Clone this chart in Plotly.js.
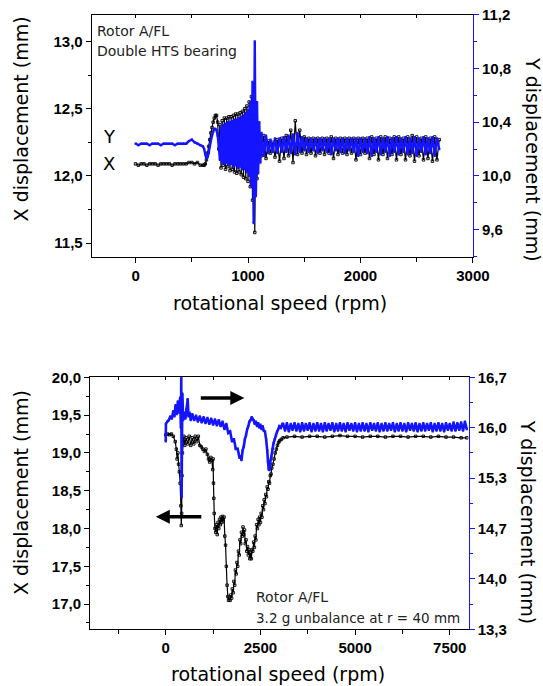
<!DOCTYPE html>
<html>
<head>
<meta charset="utf-8">
<script src="https://cdn.plot.ly/plotly-3.0.1.min.js"></script>
<style>
html,body{margin:0;padding:0;background:#fff;}
#chart{width:543px;height:686px;}
</style>
</head>
<body>
<div id="chart"></div>
<script>
// ---------------- DATA: top panel (Rotor A/FL, double HTS bearing) ----------------
var rpmTop = [
  0,25,50,75,100,125,150,175,200,225,250,275,300,325,350,375,400,425,450,475,500,525,550,575,600,
  610,620,630,640,650,660,670,680,690,700,710,720,730,740,
  750,760,770,780,790,800,810,820,830,840,
  850,860,870,880,890,900,910,920,930,940,
  950,960,970,980,990,1000,1010,1020,1030,1040,
  1050,1060,1070,1080,1090,1100,1110,1120,
  1140,1160,1180,1200,1220,1240,1260,1280,1300,1320,
  1340,1360,1380,1400,1420,1440,1460,1480,1500,1520,
  1540,1560,1580,1600,1620,1640,1660,1680,1700,1720,
  1740,1760,1780,1800,1820,1840,1860,1880,1900,1920,
  1940,1960,1980,2000,2020,2040,2060,2080,2100,2120,
  2140,2160,2180,2200,2220,2240,2260,2280,2300,2320,
  2340,2360,2380,2400,2420,2440,2460,2480,2500,2520,
  2540,2560,2580,2600,2620,2640,2660,2680,2700
];
var xDispTop = [
  12.09,12.08,12.09,12.09,12.08,12.09,12.09,12.09,12.08,12.09,12.09,12.09,12.09,12.08,12.09,12.09,12.09,12.09,12.09,12.10,12.10,12.09,12.10,12.08,12.08,
  12.08,12.09,12.12,12.17,12.22,12.27,12.32,12.36,12.40,12.43,12.45,12.45,12.40,12.20,
  12.38,12.06,12.41,12.08,12.43,12.05,12.43,12.07,12.44,12.04,
  12.44,12.05,12.45,12.03,12.46,12.02,12.46,12.03,12.47,12.01,
  12.48,11.99,12.50,11.98,12.52,11.96,12.55,11.92,12.59,11.82,
  12.50,11.58,12.35,11.98,12.30,12.12,12.28,12.15,
  12.30,12.13,12.26,12.17,12.25,12.14,12.27,12.11,12.28,12.13,
  12.30,12.15,12.34,12.10,12.41,12.16,12.34,12.17,12.29,12.16,
  12.28,12.17,12.28,12.15,12.28,12.17,12.28,12.16,12.28,12.17,
  12.29,12.13,12.28,12.16,12.28,12.17,12.28,12.16,12.28,12.17,
  12.28,12.12,12.28,12.16,12.28,12.17,12.28,12.13,12.29,12.16,
  12.28,12.12,12.29,12.16,12.29,12.13,12.28,12.16,12.29,12.12,
  12.29,12.16,12.28,12.12,12.29,12.15,12.30,12.11,12.29,12.15,
  12.28,12.12,12.29,12.13,12.28,12.11,12.29,12.12,12.27
];
var yDispTop = [
  10.24,10.23,10.24,10.24,10.24,10.23,10.24,10.24,10.24,10.23,10.24,10.24,10.24,10.24,10.23,10.24,10.24,10.24,10.24,10.26,10.27,10.25,10.24,10.23,10.22,
  10.20,10.16,10.13,10.14,10.17,10.22,10.26,10.30,10.33,10.35,10.35,10.34,10.30,10.22,
  10.12,10.36,10.10,10.38,10.09,10.39,10.10,10.40,10.08,10.40,
  10.09,10.41,10.07,10.42,10.08,10.42,10.06,10.43,10.07,10.44,
  10.05,10.45,10.05,10.47,10.03,10.49,10.00,10.55,9.92,10.70,
  9.65,11.00,9.85,10.55,10.02,10.40,10.10,10.32,
  10.15,10.30,10.17,10.27,10.18,10.28,10.17,10.28,10.18,10.29,
  10.18,10.30,10.17,10.31,10.16,10.32,10.18,10.29,10.19,10.28,
  10.18,10.28,10.19,10.28,10.17,10.28,10.19,10.28,10.18,10.28,
  10.16,10.28,10.19,10.28,10.18,10.28,10.17,10.28,10.19,10.28,
  10.18,10.28,10.15,10.28,10.18,10.28,10.17,10.29,10.15,10.28,
  10.18,10.29,10.16,10.28,10.18,10.29,10.15,10.28,10.18,10.29,
  10.16,10.28,10.18,10.29,10.16,10.28,10.17,10.29,10.15,10.28,
  10.18,10.29,10.16,10.28,10.17,10.29,10.15,10.28,10.20
];

// ---------------- DATA: bottom panel (3.2 g unbalance) ----------------
var rpmBotX = [
  0,50,100,150,200,250,280,300,320,340,
  360,380,400,410,420,430,440,460,480,500,
  540,580,620,660,700,740,780,820,860,900,
  940,980,1020,1060,1100,1130,1160,1190,1220,1240,
  1250,1260,1270,1280,1300,1320,1340,1360,1380,1400,
  1420,1440,1460,1480,1500,1520,1540,1560,1580,1600,
  1620,1640,1660,1680,1700,1720,1740,1760,1780,1800,
  1820,1840,1860,1880,1900,1920,1940,1960,1980,2000,
  2020,2040,2060,2080,2100,2120,2140,2160,2180,2200,
  2220,2240,2260,2280,2300,2320,2340,2360,2380,2400,
  2420,2440,2460,2480,2500,2520,2540,2560,2580,2600,
  2620,2640,2660,2680,2700,2720,2740,2760,2780,2800,
  2830,2860,2890,2920,2950,2980,3010,3050,3100,3200,
  3400,3600,3800,4000,4200,4400,4600,4800,5000,5200,
  5400,5600,5800,6000,6200,6400,6600,6800,7000,7200,
  7400,7600,7800,7950
];
var xDispBot = [
  19.24,19.25,19.24,19.25,19.22,19.15,19.05,18.92,19.00,18.85,
  18.75,18.60,18.30,18.04,18.20,18.70,19.00,19.15,19.22,19.10,
  19.20,19.12,19.22,19.10,19.20,19.12,19.22,19.15,19.22,19.10,
  19.08,19.05,19.02,19.05,18.98,18.92,18.88,18.94,18.90,18.78,
  18.92,18.60,18.40,18.20,18.00,17.95,18.05,17.92,18.08,18.00,
  18.12,18.05,18.15,18.08,18.16,18.10,18.15,17.90,17.78,17.50,
  17.25,17.10,17.05,17.08,17.05,17.12,17.08,17.20,17.15,17.30,
  17.25,17.45,17.40,17.55,17.50,17.70,17.65,17.85,17.80,17.95,
  17.90,18.02,17.92,17.98,17.80,17.85,17.70,17.76,17.65,17.72,
  17.60,17.68,17.60,17.72,17.70,17.82,17.75,17.90,17.85,18.05,
  18.00,18.12,18.05,18.15,18.08,18.20,18.15,18.30,18.25,18.38,
  18.33,18.45,18.42,18.55,18.52,18.62,18.60,18.70,18.72,18.80,
  18.85,18.92,19.00,19.05,19.10,19.14,19.16,19.18,19.20,19.21,
  19.22,19.21,19.22,19.22,19.21,19.22,19.23,19.22,19.22,19.21,
  19.22,19.22,19.21,19.22,19.22,19.21,19.22,19.22,19.21,19.22,
  19.21,19.21,19.20,19.20
];
var rpmBotY = [
  0,5,40,80,120,160,200,230,260,290,
  320,350,380,400,410,420,430,440,460,490,
  520,550,580,600,630,660,700,750,800,850,
  900,950,1000,1050,1100,1150,1200,1250,1300,1350,
  1400,1450,1500,1550,1600,1650,1700,1750,1800,1850,
  1900,1950,1980,2000,2030,2060,2090,2120,2150,2180,
  2210,2240,2270,2290,2320,2350,2380,2410,2440,2470,
  2500,2530,2560,2590,2620,2650,2680,2700,2720,2740,
  2760,2790,2820,2850,2880,2910,2940,2970,3000,3040,
  3080,
  3100,3150,3200,3250,3300,3350,3400,3450,3500,3550,
  3600,3650,3700,3750,3800,3850,3900,3950,4000,4050,
  4100,4150,4200,4250,4300,4350,4400,4450,4500,4550,
  4600,4650,4700,4750,4800,4850,4900,4950,5000,5050,
  5100,5150,5200,5250,5300,5350,5400,5450,5500,5550,
  5600,5650,5700,5750,5800,5850,5900,5950,6000,6050,
  6100,6150,6200,6250,6300,6350,6400,6450,6500,6550,
  6600,6650,6700,6750,6800,6850,6900,6950,7000,7050,
  7100,7150,7200,7250,7300,7350,7400,7450,7500,7550,
  7600,7650,7700,7750,7800,7850,7900,7950
];
var yDispBot = [
  15.82,16.05,16.08,16.10,16.15,16.12,16.22,16.15,16.30,16.18,
  16.35,16.20,16.40,16.00,16.67,15.08,15.90,16.45,16.10,16.20,
  16.12,16.25,16.38,16.15,16.20,16.10,16.18,16.10,16.16,16.08,
  16.15,16.07,16.14,16.06,16.13,16.05,16.12,16.04,16.11,16.03,
  16.10,16.02,16.08,15.98,16.05,15.93,15.95,15.82,15.85,15.72,
  15.72,15.60,15.62,15.57,15.70,15.75,15.85,15.90,15.98,16.02,
  16.08,16.10,16.14,16.12,16.10,16.05,16.08,16.02,16.06,16.00,
  16.04,15.98,16.02,15.96,15.95,15.85,15.70,15.55,15.45,15.44,
  15.55,15.62,15.72,15.80,15.85,15.90,15.95,15.98,16.02,16.00,
  16.05,
  16.05,15.96,16.06,15.95,16.05,15.97,16.06,15.96,16.05,15.95,
  16.06,15.96,16.05,15.97,16.06,15.95,16.05,15.96,16.06,15.96,
  16.05,15.95,16.06,15.96,16.05,15.97,16.06,15.95,16.05,15.96,
  16.06,15.96,16.05,15.95,16.06,15.97,16.05,15.96,16.06,15.95,
  16.05,15.96,16.06,15.96,16.05,15.95,16.06,15.97,16.05,15.96,
  16.06,15.95,16.05,15.96,16.06,15.96,16.05,15.97,16.06,15.95,
  16.05,15.96,16.06,15.96,16.05,15.95,16.06,15.97,16.05,15.96,
  16.06,15.95,16.05,15.96,16.06,15.96,16.05,15.97,16.06,15.95,
  16.05,15.96,16.06,15.96,16.05,15.95,16.06,15.97,16.05,15.96,
  16.07,15.96,16.06,15.97,16.07,15.96,16.08,15.98
];

// tick labels of the bottom-right axis (thirds, shown with one decimal)
var yRightBotTickVals = [13.3333, 14.0, 14.6667, 15.3333, 16.0, 16.6667];
var yRightBotTickText = ['13,3', '14,0', '14,7', '15,3', '16,0', '16,7'];
var yRightBotMinorVals = [13.6667, 14.3333, 15.0, 15.6667, 16.3333];

// ---------------- LAYOUT helpers ----------------
var W = 543, H = 686;
function px(x) { return x / W; }
function py(y) { return 1 - y / H; }

var BLUE = '#1414ff';
var TICKFONT = {family: 'Liberation Sans, Arial, sans-serif', size: 15, color: '#000', weight: 'bold'};
var TITLEFONT = {family: 'DejaVu Sans, sans-serif', size: 19, color: '#000'};
var NOTEFONT = {family: 'DejaVu Sans, sans-serif', size: 14, color: '#222'};

function baseAxis(extra) {
  var a = {
    showgrid: false, zeroline: false, showline: true, linecolor: '#000', linewidth: 1,
    ticks: 'outside', ticklen: 5, tickwidth: 1, tickcolor: '#000',
    tickfont: TICKFONT, fixedrange: true
  };
  for (var k in extra) a[k] = extra[k];
  return a;
}

var traces = [
  {x: rpmTop, y: xDispTop, xaxis: 'x', yaxis: 'y', mode: 'lines+markers', hoverinfo: 'skip',
   line: {color: '#000', width: 1.2, simplify: false},
   marker: {symbol: 'square-open', size: 2.5, color: '#000', line: {width: 0.9, color: '#000'}}},
  {x: rpmTop, y: yDispTop, xaxis: 'x', yaxis: 'y2', mode: 'lines+markers', hoverinfo: 'skip',
   line: {color: BLUE, width: 2.4, simplify: false}, marker: {symbol: 'square', size: 2.2, color: BLUE}},
  {x: [0], y: [12], xaxis: 'x3', yaxis: 'y', mode: 'markers', hoverinfo: 'skip', marker: {opacity: 0}},
  {x: rpmBotX, y: xDispBot, xaxis: 'x2', yaxis: 'y3', mode: 'lines+markers', hoverinfo: 'skip',
   line: {color: '#000', width: 1.2, simplify: false},
   marker: {symbol: 'square-open', size: 2.5, color: '#000', line: {width: 0.9, color: '#000'}}},
  {x: rpmBotY, y: yDispBot, xaxis: 'x2', yaxis: 'y4', mode: 'lines+markers', hoverinfo: 'skip',
   line: {color: BLUE, width: 2.6, simplify: false}, marker: {symbol: 'square', size: 2.2, color: BLUE}},
  {x: [0], y: [19], xaxis: 'x4', yaxis: 'y3', mode: 'markers', hoverinfo: 'skip', marker: {opacity: 0}}
];

var topX = [px(91.7), px(473)], topY = [py(256.7), py(14.5)];
var botX = [px(90), px(468.7)], botY = [py(629.3), py(377.3)];

var layout = {
  width: W, height: H,
  margin: {l: 0, r: 0, t: 0, b: 0, pad: 0},
  paper_bgcolor: '#fff', plot_bgcolor: 'rgba(0,0,0,0)',
  showlegend: false,
  separators: ',.',
  xaxis: baseAxis({domain: topX, anchor: 'y', range: [-390, 3000.5], tick0: 0, dtick: 1000, mirror: true,
    minor: {tick0: 0, dtick: 500, ticks: 'outside', ticklen: 4, tickcolor: '#000', showgrid: false}}),
  xaxis3: {overlaying: 'x', anchor: 'y', side: 'top', range: [-390, 3000.5], tick0: 0, dtick: 500,
    ticks: 'inside', ticklen: 3, tickcolor: '#000', showticklabels: false, showline: false,
    showgrid: false, zeroline: false, fixedrange: true},
  yaxis: baseAxis({domain: topY, anchor: 'x', range: [11.4, 13.2], tick0: 11.5, dtick: 0.5, tickformat: '.1f',
    minor: {tick0: 11.5, dtick: 0.25, ticks: 'outside', ticklen: 3, tickcolor: '#000', showgrid: false}}),
  yaxis2: baseAxis({overlaying: 'y', side: 'right', anchor: 'x', range: [9.4, 11.2005], tick0: 9.6, dtick: 0.4,
    tickformat: '.1f', linecolor: BLUE, tickcolor: BLUE,
    minor: {tick0: 9.6, dtick: 0.2, ticks: 'outside', ticklen: 3, tickcolor: BLUE, showgrid: false}}),
  xaxis2: baseAxis({domain: botX, anchor: 'y3', range: [-2000, 8000], tick0: 0, dtick: 2500, mirror: true,
    minor: {tick0: 0, dtick: 1250, ticks: 'outside', ticklen: 4, tickcolor: '#000', showgrid: false}}),
  xaxis4: {overlaying: 'x2', anchor: 'y3', side: 'top', range: [-2000, 8000], tick0: 0, dtick: 1250,
    ticks: 'inside', ticklen: 3, tickcolor: '#000', showticklabels: false, showline: false,
    showgrid: false, zeroline: false, fixedrange: true},
  yaxis3: baseAxis({domain: botY, anchor: 'x2', range: [16.6665, 20.0005], tick0: 17, dtick: 0.5, tickformat: '.1f',
    minor: {tick0: 17, dtick: 0.25, ticks: 'outside', ticklen: 3, tickcolor: '#000', showgrid: false}}),
  yaxis4: baseAxis({overlaying: 'y3', side: 'right', anchor: 'x2', range: [13.333, 16.6672],
    tickmode: 'array', tickvals: yRightBotTickVals, ticktext: yRightBotTickText,
    linecolor: BLUE, tickcolor: BLUE,
    minor: {tickmode: 'array', tickvals: yRightBotMinorVals, ticks: 'outside', ticklen: 3, tickcolor: BLUE, showgrid: false}}),
  annotations: [
    // top panel
    {text: 'Rotor A/FL', x: px(95), y: py(30.7), xanchor: 'left', yanchor: 'middle', font: NOTEFONT},
    {text: 'Double HTS bearing', x: px(95), y: py(50.7), xanchor: 'left', yanchor: 'middle', font: NOTEFONT},
    {text: 'Y', x: px(109), y: py(136), xanchor: 'center', yanchor: 'middle', font: {family: 'DejaVu Sans, sans-serif', size: 18, color: '#000'}},
    {text: 'X', x: px(109), y: py(164), xanchor: 'center', yanchor: 'middle', font: {family: 'DejaVu Sans, sans-serif', size: 18, color: '#000'}},
    {text: 'rotational speed (rpm)', x: px(279.5), y: py(302.5), xanchor: 'center', yanchor: 'middle', font: TITLEFONT},
    {text: 'X displacement (mm)', x: px(20.7), y: py(118.7), xanchor: 'center', yanchor: 'middle', textangle: -90, font: TITLEFONT},
    {text: 'Y displacement (mm)', x: px(533), y: py(159), xanchor: 'center', yanchor: 'middle', textangle: 90, font: TITLEFONT},
    // bottom panel
    {text: 'rotational speed (rpm)', x: px(277.8), y: py(674), xanchor: 'center', yanchor: 'middle', font: TITLEFONT},
    {text: 'X displacement (mm)', x: px(20.6), y: py(492.5), xanchor: 'center', yanchor: 'middle', textangle: -90, font: TITLEFONT},
    {text: 'Y displacement (mm)', x: px(528), y: py(521.7), xanchor: 'center', yanchor: 'middle', textangle: 90, font: TITLEFONT},
    {text: 'Rotor A/FL', x: px(254), y: py(597.3), xanchor: 'left', yanchor: 'middle', font: NOTEFONT},
    {text: '3.2 g unbalance at r = 40 mm', x: px(254), y: py(618.3), xanchor: 'left', yanchor: 'middle', font: {family: 'DejaVu Sans, sans-serif', size: 13.5, color: '#222'}},
    {text: '', x: px(244.3), y: py(398), showarrow: true, ax: -45, ay: 0, arrowhead: 2, arrowsize: 0.8, arrowwidth: 3.5, arrowcolor: '#000', standoff: 0},
    {text: '', x: px(155.8), y: py(516.7), showarrow: true, ax: 47, ay: 0, arrowhead: 2, arrowsize: 0.8, arrowwidth: 3.5, arrowcolor: '#000', standoff: 0}
  ]
};
layout.annotations.forEach(function (a) {
  a.xref = 'paper'; a.yref = 'paper';
  if (a.showarrow === undefined) a.showarrow = false;
});

Plotly.newPlot('chart', traces, layout, {displayModeBar: false, staticPlot: true});
</script>
</body>
</html>
